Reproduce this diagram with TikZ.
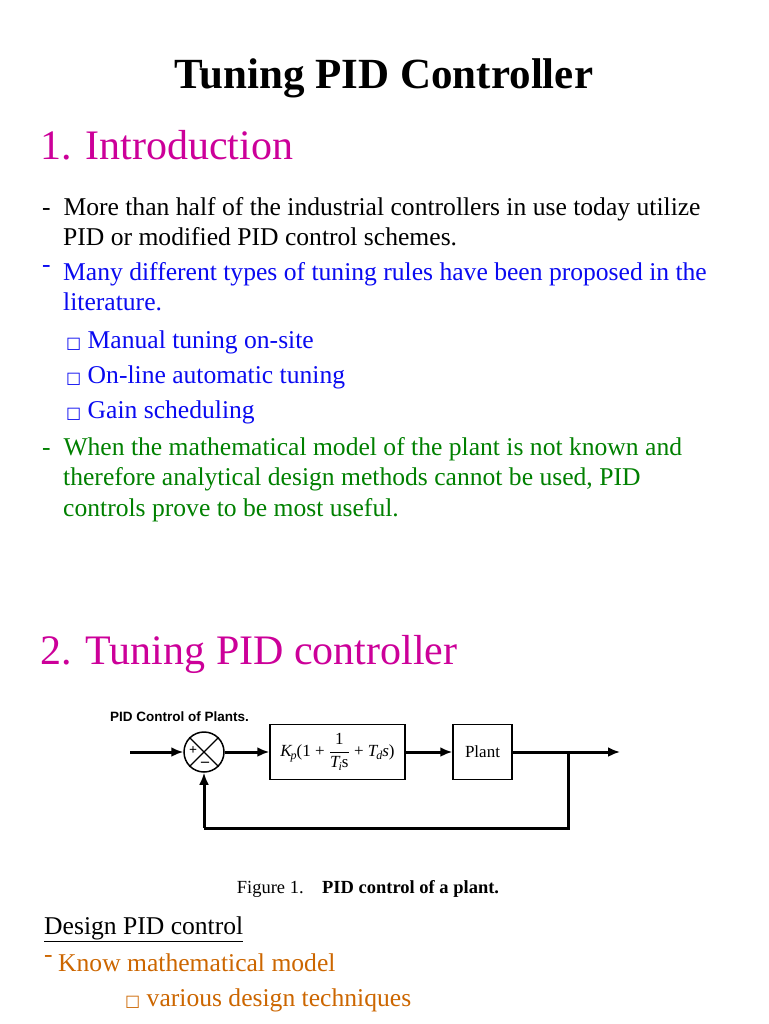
\documentclass[tikz,border=0pt]{standalone}
\usepackage{fontspec}
\setmainfont{Liberation Serif}
\newfontfamily\symf{DejaVu Serif}
\newfontfamily\sansf{Liberation Sans}
\usetikzlibrary{arrows.meta}
\definecolor{mag}{RGB}{204,0,153}
\definecolor{bl}{RGB}{10,10,240}
\definecolor{gr}{RGB}{0,128,0}
\definecolor{org}{RGB}{204,102,0}
\newcommand{\bx}{{\symf\fontsize{16}{18}\selectfont □}}
\begin{document}
\begin{tikzpicture}[x=1pt,y=-1pt,
  t/.style={anchor=base west,inner sep=0pt,font=\fontsize{25.6}{28}\selectfont},
  h/.style={anchor=base west,inner sep=0pt,font=\fontsize{42}{44}\selectfont,text=mag},
  blk/.style={draw,line width=1.5pt,minimum height=55pt,inner sep=2pt},
  ln/.style={line width=3pt},
  ar/.style={ln,-{Latex[length=12pt,width=10pt]}}]
\useasboundingbox (0,0) rectangle (768,1024);
\node[anchor=base,inner sep=0pt,font=\fontsize{43}{44}\selectfont\bfseries] (title) at (384,89) {Tuning PID Controller};
\node[h] (h1) at (40,160) {1. Introduction};
\node[t] (a1) at (42,215) {-\ \ More than half of the industrial controllers in use today utilize};
\node[t] (a2) at (63,245) {PID or modified PID control schemes.};
\node[t,text=bl] (b0) at (42,272) {-};
\node[t,text=bl] (b1) at (63,280) {Many different types of tuning rules have been proposed in the};
\node[t,text=bl] (b2) at (63,310) {literature.};
\node[t,text=bl] (c1) at (66,348) {\bx\ Manual tuning on-site};
\node[t,text=bl] (c2) at (66,383) {\bx\ On-line automatic tuning};
\node[t,text=bl] (c3) at (66,418) {\bx\ Gain scheduling};
\node[t,text=gr] (d1) at (42,455) {-\ \ When the mathematical model of the plant is not known and};
\node[t,text=gr] (d2) at (63,485) {therefore analytical design methods cannot be used, PID};
\node[t,text=gr] (d3) at (63,516) {controls prove to be most useful.};
\node[h] (h2) at (40,664) {2. Tuning PID controller};
% diagram
\node[anchor=base west,inner sep=0pt,font=\sansf\bfseries\fontsize{13.5}{15}\selectfont] (lab) at (110,721) {PID Control of Plants.};
\coordinate (in) at (130,752);
\node[draw,circle,line width=1.5pt,minimum size=40pt,inner sep=0pt] (sum) at (204,752) {};
\draw[line width=1.2pt] (sum.north west) -- (sum.south east) (sum.north east) -- (sum.south west);
\node[font=\bfseries\fontsize{14}{14}\selectfont,inner sep=0pt] (pl) at (193,751) {+};
\node[font=\bfseries\fontsize{16}{16}\selectfont,inner sep=0pt] (mi) at (205,764) {–};
\node[blk,minimum width=135pt] (pid) at (337.5,752) {\fontsize{17}{20}\selectfont \textit{K\kern-1pt\raisebox{-3pt}{\fontsize{12}{12}\selectfont p}}(1 + $\displaystyle\frac{\mbox{1}}{\mbox{\textit{T\kern-1pt\raisebox{-3pt}{\fontsize{12}{12}\selectfont i}}s}}$ + \textit{T\kern-1pt\raisebox{-3pt}{\fontsize{12}{12}\selectfont d}s})};
\node[blk,minimum width=59pt] (plant) at (482.5,752) {\fontsize{17}{18}\selectfont Plant};
\coordinate (br) at (568,752);
\coordinate (out) at (620,752);
\coordinate (c1b) at (568,828);
\coordinate (c2b) at (204,828);
\draw[ar] (in) -- (sum.west);
\draw[ar] (sum.east) -- (pid.west);
\draw[ar] (pid.east) -- (plant.west);
\draw[ar] (plant.east) -- (out);
\draw[ln] (br) -- (c1b) -- (c2b);
\draw[ar] (c2b) -- (sum.south);
\node[anchor=base,inner sep=0pt,font=\fontsize{18.5}{20}\selectfont] (cap) at (368,893) {Figure 1.\quad\textbf{PID control of a plant.}};
\node[t] (e1) at (44,934) {\underline{Design PID control}};
\node[t,text=org] (f0) at (44,962) {-};
\node[t,text=org] (f1) at (58,971) {Know mathematical model};
\node[t,text=org] (g1) at (125,1006) {\bx\ various design techniques};
\end{tikzpicture}
\end{document}
